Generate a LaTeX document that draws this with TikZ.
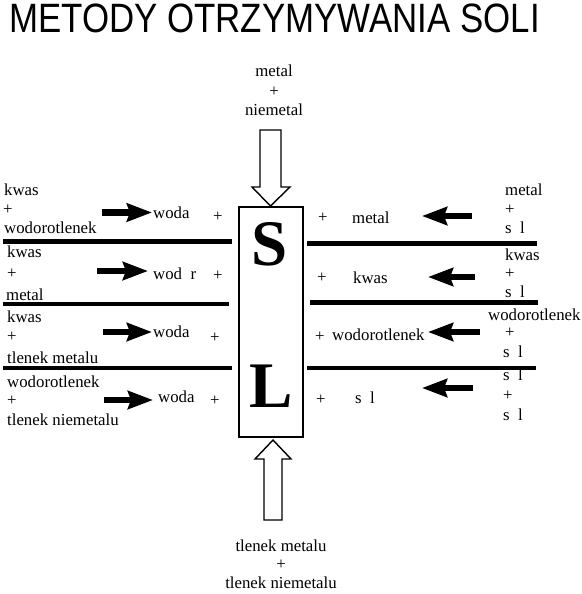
\documentclass[tikz,border=0pt]{standalone}
\usepackage{fontspec}
\setmainfont{Liberation Serif}
\newfontfamily\tytulfont{Liberation Sans}
\usetikzlibrary{arrows.meta}

\begin{document}
\begin{tikzpicture}[
    x=1pt,y=-1pt,
    tekst/.style={anchor=base west,inner sep=0pt,font=\fontsize{16.8}{18}\selectfont},
    srodek/.style={tekst,anchor=base},
    litera/.style={anchor=base,inner sep=0pt,font=\fontsize{65}{65}\selectfont\bfseries},
    kreska/.style={line width=4.5pt},
    reakcja/.style={-{Stealth[length=25pt,width=18pt,inset=3pt]},line width=6.5pt},
    pusta/.style={draw,line width=1.4pt,fill=white,line join=miter}
  ]
  \path[use as bounding box] (0,0) rectangle (581,594);
  \node[anchor=base west,inner sep=0pt,xscale=0.85,
    font=\tytulfont\fontsize{41}{41}\selectfont] (tytul) at (9,32.5)
    {METODY OTRZYMYWANIA SOLI};

  % sol w srodku
  \draw[line width=1.5pt] (239,207) rectangle (303,437);
  \node[litera] (S) at (270,265) {S};
  \node[litera] (L) at (271,407) {L};

  % z gory: metal + niemetal
  \node[srodek] (g1) at (274,77) {metal};
  \node[srodek] (g2) at (274,96) {+};
  \node[srodek] (g3) at (274,115) {niemetal};
  \draw[pusta] (260,130) -- (281,130) -- (281,187) -- (290,187) -- (270.5,206)
    -- (252,187) -- (260,187) -- cycle;

  % z dolu: tlenek metalu + tlenek niemetalu
  \draw[pusta] (264,520) -- (282,520) -- (282,459) -- (291,459) -- (273,440)
    -- (255,459) -- (264,459) -- cycle;
  \node[srodek] (d1) at (281,551) {tlenek metalu};
  \node[srodek] (d2) at (281,569) {+};
  \node[srodek] (d3) at (281,588) {tlenek niemetalu};

  % kreski
  \draw[kreska] (3,241.5) -- (232,241.5);
  \draw[kreska] (3,304) -- (229,304);
  \draw[kreska] (3,368) -- (232,368);
  \draw[kreska] (307,243.5) -- (537,243.5);
  \draw[kreska] (310,302.5) -- (538,302.5);
  \draw[kreska] (307,368) -- (536,368);

  % lewa strona
  \node[tekst] (l1a) at (4,195) {kwas};
  \node[tekst] (l1b) at (3,214) {+};
  \node[tekst] (l1c) at (4,233) {wodorotlenek};
  \node[tekst] (l1w) at (153,218) {woda};
  \node[tekst] (l1p) at (213,221) {+};
  \coordinate (l1s) at (102,212.5);
  \coordinate (l1k) at (152,212.5);
  \draw[reakcja] (l1s) -- (l1k);

  \node[tekst] (l2a) at (7,257) {kwas};
  \node[tekst] (l2b) at (7,278) {+};
  \node[tekst] (l2c) at (6,300) {metal};
  \node[tekst] (l2w) at (153,279) {wod\phantom{o}r};
  \node[tekst] (l2p) at (213,280) {+};
  \coordinate (l2s) at (97,271);
  \coordinate (l2k) at (148,271);
  \draw[reakcja] (l2s) -- (l2k);

  \node[tekst] (l3a) at (7,322) {kwas};
  \node[tekst] (l3b) at (7,341) {+};
  \node[tekst] (l3c) at (7,363) {tlenek metalu};
  \node[tekst] (l3w) at (153,337) {woda};
  \node[tekst] (l3p) at (210,342) {+};
  \coordinate (l3s) at (103,332);
  \coordinate (l3k) at (152,332);
  \draw[reakcja] (l3s) -- (l3k);

  \node[tekst] (l4a) at (7,387) {wodorotlenek};
  \node[tekst] (l4b) at (7,405) {+};
  \node[tekst] (l4c) at (7,425) {tlenek niemetalu};
  \node[tekst] (l4w) at (158,402) {woda};
  \node[tekst] (l4p) at (210,405) {+};
  \coordinate (l4s) at (104,400);
  \coordinate (l4k) at (153,400);
  \draw[reakcja] (l4s) -- (l4k);

  % prawa strona
  \node[tekst] (p1p) at (318,222) {+};
  \node[tekst] (p1w) at (352,223) {metal};
  \node[tekst] (p1a) at (505,195) {metal};
  \node[tekst] (p1b) at (505,214) {+};
  \node[tekst] (p1c) at (505,233) {s\phantom{o}l};
  \coordinate (p1s) at (472,216);
  \coordinate (p1k) at (422,216);
  \draw[reakcja] (p1s) -- (p1k);

  \node[tekst] (p2p) at (317,282) {+};
  \node[tekst] (p2w) at (353,283) {kwas};
  \node[tekst] (p2a) at (505,260) {kwas};
  \node[tekst] (p2b) at (505,278) {+};
  \node[tekst] (p2c) at (505,297) {s\phantom{o}l};
  \coordinate (p2s) at (475,277);
  \coordinate (p2k) at (428,277);
  \draw[reakcja] (p2s) -- (p2k);

  \node[tekst] (p3p) at (315,341) {+};
  \node[tekst] (p3w) at (332,340) {wodorotlenek};
  \node[tekst] (p3a) at (488,320) {wodorotlenek};
  \node[tekst] (p3b) at (505,337) {+};
  \node[tekst] (p3c) at (503,357) {s\phantom{o}l};
  \coordinate (p3s) at (480,332);
  \coordinate (p3k) at (428,332);
  \draw[reakcja] (p3s) -- (p3k);

  \node[tekst] (p4p) at (316,404) {+};
  \node[tekst] (p4w) at (355,403) {s\phantom{o}l};
  \node[tekst] (p4a) at (503,380) {s\phantom{o}l};
  \node[tekst] (p4b) at (503,400) {+};
  \node[tekst] (p4c) at (503,420) {s\phantom{o}l};
  \coordinate (p4s) at (473,388);
  \coordinate (p4k) at (422,388);
  \draw[reakcja] (p4s) -- (p4k);
\end{tikzpicture}
\end{document}
